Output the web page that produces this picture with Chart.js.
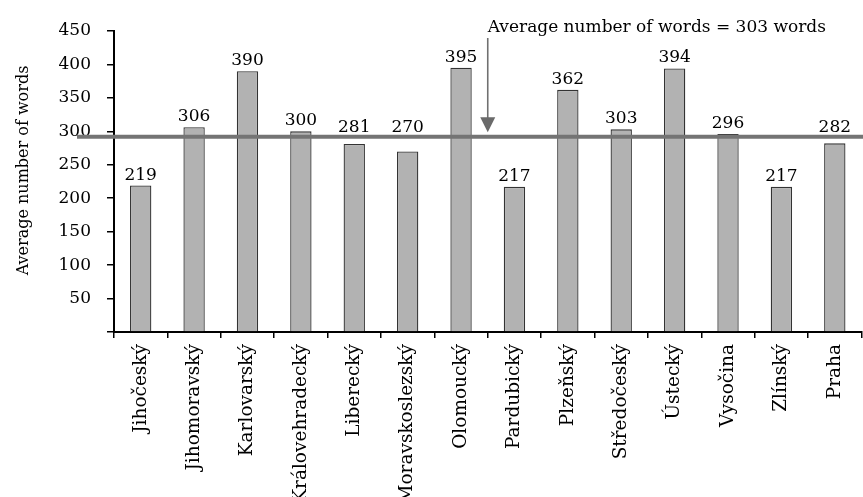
<!DOCTYPE html>
<html>
<head>
<meta charset="utf-8">
<script src="https://cdn.jsdelivr.net/npm/chart.js@4"></script>
<style>
  html, body { margin: 0; padding: 0; background: #fff; overflow: hidden; }
  #wrap { width: 863px; height: 497px; position: relative; }
</style>
</head>
<body>
<div id="wrap"><canvas id="c"></canvas></div>
<script>
const regions = ["Jihočeský", "Jihomoravský", "Karlovarský", "Královehradecký", "Liberecký",
  "Moravskoslezský", "Olomoucký", "Pardubický", "Plzeňský", "Středočeský", "Ústecký",
  "Vysočina", "Zlínský", "Praha"];
const averageWords = [219, 306, 390, 300, 281, 270, 395, 217, 362, 303, 394, 296, 217, 282];
const yTicks = [0, 450, 50]; // min, max, step
const averageLineValue = [292];      // where the reference line is drawn
const averageLabel = ["Average number of words = 303 words"];
const yTitle = ["Average number of words"];
const arrowCategoryPos = [6.5];      // arrow sits between Olomoucký and Pardubický

const FONT = "'DejaVu Serif', 'Liberation Serif', serif";

const overlay = {
  id: 'overlay',
  afterDatasetsDraw(chart) {
    const ctx = chart.ctx;
    const xs = chart.scales.x, ys = chart.scales.y;
    const area = chart.chartArea;
    const avg = averageLineValue[0];
    const yAvg = ys.getPixelForValue(avg);
    // data labels (labels of bars just under the line are lifted above it, as in the reference)
    const meta = chart.getDatasetMeta(0);
    ctx.save();
    ctx.font = "17px " + FONT;
    ctx.fillStyle = '#000';
    ctx.textAlign = 'center';
    ctx.textBaseline = 'alphabetic';
    meta.data.forEach((bar, i) => {
      const v = averageWords[i];
      let yy = bar.y - 6;
      if (v > avg - 40 && v < avg + 15) yy = Math.min(yy, yAvg - 5);
      ctx.fillText(String(v), bar.x, yy);
    });
    // average line
    ctx.strokeStyle = '#747474';
    ctx.lineWidth = 4;
    ctx.beginPath();
    ctx.moveTo(77, yAvg);
    ctx.lineTo(chart.width, yAvg);
    ctx.stroke();
    // arrow
    const ax = xs.getPixelForValue(arrowCategoryPos[0]);
    const tipY = yAvg - 4.5;
    ctx.strokeStyle = '#707070';
    ctx.fillStyle = '#6a6a6a';
    ctx.lineWidth = 1.6;
    ctx.beginPath();
    ctx.moveTo(ax, 38);
    ctx.lineTo(ax, tipY - 13);
    ctx.stroke();
    ctx.beginPath();
    ctx.moveTo(ax - 7.5, tipY - 15);
    ctx.lineTo(ax + 7.5, tipY - 15);
    ctx.lineTo(ax, tipY);
    ctx.closePath();
    ctx.fill();
    // annotation text
    ctx.fillStyle = '#000';
    ctx.textAlign = 'left';
    ctx.font = "17px " + FONT;
    ctx.fillText(averageLabel[0], ax, 32);
    // y axis title
    ctx.translate(24, (area.top + area.bottom) / 2 - 11);
    ctx.rotate(-Math.PI / 2);
    ctx.textAlign = 'center';
    ctx.textBaseline = 'middle';
    ctx.font = "16px " + FONT;
    ctx.fillText(yTitle[0], 0, 0);
    ctx.restore();
  }
};

new Chart(document.getElementById('c'), {
  type: 'bar',
  data: {
    labels: regions,
    datasets: [{
      data: averageWords,
      backgroundColor: '#b2b2b2',
      borderColor: '#333333',
      borderWidth: 1.3,
      categoryPercentage: 1.0,
      barPercentage: 0.4
    }]
  },
  options: {
    responsive: true,
    maintainAspectRatio: false,
    animation: false,
    devicePixelRatio: 1,
    layout: { padding: { top: 31, right: 0, left: 0, bottom: 0 } },
    plugins: { legend: { display: false }, tooltip: { enabled: false } },
    scales: {
      x: {
        afterFit(scale) { scale.height = 165; },
        grid: { display: true, drawOnChartArea: false, color: '#000', lineWidth: 1.5, tickLength: 6, offset: true },
        border: { display: true, color: '#000', width: 2 },
        ticks: {
          autoSkip: false, maxRotation: 90, minRotation: 90, padding: 6,
          color: '#000', font: { family: FONT, size: 18.5 }
        }
      },
      y: {
        min: yTicks[0], max: yTicks[1],
        afterFit(scale) { scale.width = 114; },
        grid: { display: true, drawOnChartArea: false, color: '#000', lineWidth: 1.5, tickLength: 7 },
        border: { display: true, color: '#000', width: 2 },
        ticks: {
          stepSize: yTicks[2], padding: 16, color: '#000',
          font: { family: FONT, size: 17 },
          callback: v => v === 0 ? '' : v
        },
        title: { display: false }
      }
    }
  },
  plugins: [overlay]
});
</script>
</body>
</html>
